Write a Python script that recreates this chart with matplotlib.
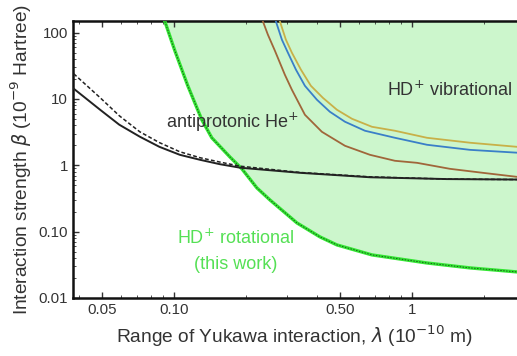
import numpy as np
import matplotlib
matplotlib.use("Agg")
from matplotlib import pyplot as plt
from matplotlib.ticker import FixedLocator, NullFormatter, LogLocator

plt.rcParams['font.family'] = ['Liberation Sans', 'DejaVu Sans']

# antiprotonic He+ bounds (solid and dashed)
pbar_x = [0.038, 0.049, 0.059, 0.072, 0.087, 0.106, 0.129, 0.156, 0.19, 0.34, 0.67, 1.4, 2.76]
pbar_solid = [14.3, 6.9, 4.1, 2.7, 1.9, 1.44, 1.21, 1.04, 0.92, 0.77, 0.66, 0.62, 0.61]
pbar_dashed = [24, 10.5, 5.6, 3.2, 2.2, 1.6, 1.3, 1.12, 0.97, 0.78, 0.67, 0.62, 0.61]

# HD+ rotational (this work)
rot_x = [0.0917, 0.101, 0.1145, 0.1311, 0.1444, 0.1719, 0.1931, 0.2232, 0.2532,
         0.3287, 0.4106, 0.484, 0.679, 1.156, 1.753, 2.76]
rot_y = [148, 53.5, 15.8, 4.86, 2.60, 1.34, 0.885, 0.457, 0.301,
         0.1355, 0.0834, 0.0631, 0.0446, 0.0337, 0.0284, 0.0247]

# HD+ vibrational bounds
vib_brown_x = [0.2366, 0.2483, 0.2657, 0.2926, 0.3131, 0.3552, 0.4185, 0.5231,
               0.666, 0.848, 1.05, 1.444, 1.987, 2.76]
vib_brown_y = [148, 93.3, 53.5, 23.2, 13.8, 5.78, 3.2, 1.97,
               1.44, 1.17, 1.09, 0.885, 0.77, 0.67]
vib_blue_x = [0.2683, 0.2843, 0.3013, 0.3256, 0.3552, 0.3989, 0.452, 0.5231,
              0.6346, 0.848, 1.156, 1.753, 2.76]
vib_blue_y = [148, 78.4, 49.9, 27.7, 15.8, 9.74, 6.42, 4.54,
              3.32, 2.60, 2.04, 1.71, 1.55]
vib_yellow_x = [0.2789, 0.2955, 0.3131, 0.3417, 0.3763, 0.4227, 0.484, 0.5597,
                0.679, 0.848, 1.156, 1.753, 2.76]
vib_yellow_y = [148, 78.4, 49.9, 27.7, 15.8, 10.4, 6.88, 5.03,
                3.81, 3.32, 2.60, 2.19, 1.90]

xticks = [0.05, 0.1, 0.5, 1]
xticklabels = ["0.05", "0.10", "0.50", "1"]
yticks = [0.01, 0.1, 1, 10, 100]
yticklabels = ["0.01", "0.10", "1", "10", "100"]

fig = plt.figure(figsize=(5.17, 3.56), dpi=100)
ax = fig.add_axes([0.141, 0.163, 0.859, 0.777])
ax.set_xscale("log")
ax.set_yscale("log")
ax.set_xlim(0.0377, 2.76)
ax.set_ylim(0.01, 148)

ax.fill_between(rot_x, rot_y, 1000, color="#ccf6cc", lw=0, zorder=1)
ax.plot(rot_x, rot_y, color="#33e633", lw=2.4, zorder=3)
ax.plot(rot_x, rot_y, color="#1a5a1a", lw=0.7, ls=(0, (1.5, 1.5)), zorder=4)

ax.plot(vib_brown_x, vib_brown_y, color="#a0663a", lw=1.3, zorder=3)
ax.plot(vib_blue_x, vib_blue_y, color="#3a7fc8", lw=1.3, zorder=3)
ax.plot(vib_yellow_x, vib_yellow_y, color="#c8b048", lw=1.3, zorder=3)

ax.plot(pbar_x, pbar_solid, color="#222222", lw=1.4, zorder=5)
ax.plot(pbar_x, pbar_dashed, color="#222222", lw=1.1, ls=(0, (2.5, 1.5)), zorder=5)

tc = "#333333"
gc = "#55e055"
ax.text(0.0925, 4.5, "antiprotonic He$^{+}$", fontsize=13, color=tc, va="center", ha="left", zorder=6)
ax.text(0.785, 13.8, "HD$^{+}$ vibrational", fontsize=13, color=tc, va="center", ha="left", zorder=6)
ax.text(0.182, 0.0805, "HD$^{+}$ rotational", fontsize=13, color=gc, va="center", ha="center", zorder=6)
ax.text(0.182, 0.0315, "(this work)", fontsize=13, color=gc, va="center", ha="center", zorder=6)

ax.xaxis.set_major_locator(FixedLocator(xticks))
ax.set_xticklabels(xticklabels)
ax.xaxis.set_minor_locator(LogLocator(base=10, subs=np.arange(2, 10)))
ax.xaxis.set_minor_formatter(NullFormatter())
ax.yaxis.set_major_locator(FixedLocator(yticks))
ax.set_yticklabels(yticklabels)
ax.yaxis.set_minor_locator(LogLocator(base=10, subs=np.arange(2, 10)))
ax.yaxis.set_minor_formatter(NullFormatter())
ax.tick_params(which="both", direction="in", top=True, colors="#333333", labelsize=10.8)
ax.tick_params(which="major", length=4, width=1)
ax.tick_params(which="minor", length=2, width=0.6)

for s in ["left", "bottom", "top"]:
    ax.spines[s].set_linewidth(1.8)
    ax.spines[s].set_color("#111111")
ax.spines["right"].set_visible(False)

ax.set_xlabel(r"Range of Yukawa interaction, $\lambda$ (10$^{-10}$ m)", fontsize=13.8, color=tc, labelpad=5)
ax.set_ylabel(r"Interaction strength $\beta$ (10$^{-9}$ Hartree)", fontsize=13.8, color=tc, labelpad=3)

fig.savefig("out.png", dpi=100)
